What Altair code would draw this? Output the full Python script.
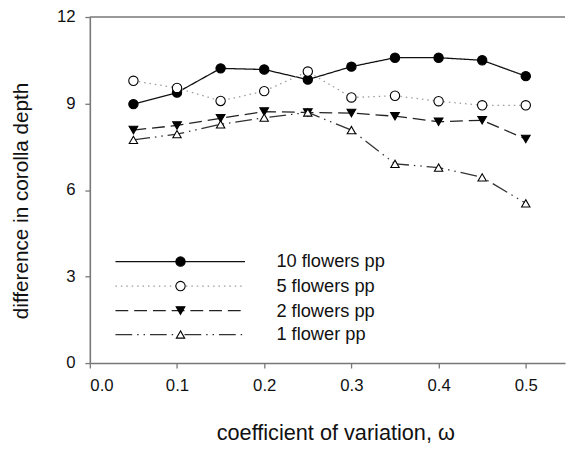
import altair as alt
import pandas as pd

# ---- data ----
cv = [0.05, 0.10, 0.15, 0.20, 0.25, 0.30, 0.35, 0.40, 0.45, 0.50]
f10 = [8.98, 9.38, 10.22, 10.18, 9.83, 10.28, 10.59, 10.59, 10.50, 9.95]
f5 = [9.79, 9.54, 9.09, 9.43, 10.11, 9.21, 9.27, 9.08, 8.94, 8.94]
f2 = [8.08, 8.24, 8.49, 8.72, 8.69, 8.67, 8.56, 8.37, 8.42, 7.77]
f1 = [7.74, 7.94, 8.28, 8.51, 8.69, 8.08, 6.91, 6.78, 6.44, 5.54]
series_names = ["10 flowers pp", "5 flowers pp", "2 flowers pp", "1 flower pp"]
series_values = [f10, f5, f2, f1]
x_ticks = [0.0, 0.1, 0.2, 0.3, 0.4, 0.5]
y_ticks = [0, 3, 6, 9, 12]

# ---- styles ----
styles = [
    dict(dash=[1, 0], color="#111111", shape="circle", fill="#000000", size=90),
    dict(dash=[1.5, 4], color="#9a9a9a", shape="circle", fill="#ffffff", size=90),
    dict(dash=[13, 6], color="#222222", shape="triangle-down", fill="#000000", size=78),
    dict(dash=[17, 5, 1.5, 5, 1.5, 5], color="#333333", shape="triangle-up", fill="#ffffff", size=72),
]

FONT = "Liberation Sans"
xscale = alt.Scale(domain=[0, 0.545], nice=False, zero=False)
yscale = alt.Scale(domain=[0, 12], nice=False)
xaxis = alt.Axis(values=x_ticks, format=".1f", title="coefficient of variation, ω",
                 labelPadding=10,
                 titleX=249, titleY=61, titleBaseline="top", titleAnchor="middle")
yaxis = alt.Axis(values=y_ticks, title="difference in corolla depth",
                 labelPadding=10, titleFontSize=21,
                 titleX=-63, titleY=186, titleAnchor="middle", titleBaseline="alphabetic")

X = lambda: alt.X("x:Q", scale=xscale, axis=xaxis)
Y = lambda: alt.Y("y:Q", scale=yscale, axis=yaxis)

# legend layout (data units)
LEG_X0, LEG_X1, LEG_XM, LEG_XT = 0.0294, 0.178, 0.104, 0.214
LEG_ROWS = [3.52, 2.67, 1.82, 0.99]

layers = []
# top frame line
layers.append(alt.Chart(pd.DataFrame({"y": [12]})).mark_rule(color="#777777", strokeWidth=1.6)
              .encode(y=Y()))
for name, vals, st, ly in zip(series_names, series_values, styles, LEG_ROWS):
    df = pd.DataFrame({"x": cv, "y": vals})
    layers.append(alt.Chart(df).mark_line(color=st["color"], strokeDash=st["dash"], strokeWidth=1.3)
                  .encode(x=X(), y=Y()))
    leg_line = pd.DataFrame({"x": [LEG_X0, LEG_X1], "y": [ly, ly]})
    layers.append(alt.Chart(leg_line).mark_line(color=st["color"], strokeDash=st["dash"], strokeWidth=1.3)
                  .encode(x=X(), y=Y()))
    leg_txt = pd.DataFrame({"x": [LEG_XT], "y": [ly], "t": [name]})
    layers.append(alt.Chart(leg_txt).mark_text(align="left", baseline="middle", font=FONT,
                                               fontSize=18.5, color="#111111")
                  .encode(x=X(), y=Y(), text="t:N"))
for name, vals, st, ly in zip(series_names, series_values, styles, LEG_ROWS):
    df = pd.DataFrame({"x": cv + [LEG_XM], "y": vals + [ly]})
    layers.append(alt.Chart(df).mark_point(shape=st["shape"], filled=True, fill=st["fill"],
                                           stroke="#000000", strokeWidth=1.1, size=st["size"],
                                           opacity=1)
                  .encode(x=X(), y=Y()))

chart = alt.layer(*layers).properties(
    width=482, height=351,
    autosize=alt.AutoSizeParams(type="none"),
    padding={"left": 83, "top": 6, "right": 1, "bottom": 84},
).configure_view(stroke=None).configure_axis(
    grid=False,
    domainColor="#777777", domainWidth=1.6,
    tickColor="#777777", tickWidth=1.3, tickSize=5,
    labelFont=FONT, labelFontSize=17, labelColor="#111111",
    titleFont=FONT, titleFontSize=22, titleFontWeight="normal", titleColor="#111111",
)

chart.save("out.html", embed_options={"renderer": "svg", "actions": False})
